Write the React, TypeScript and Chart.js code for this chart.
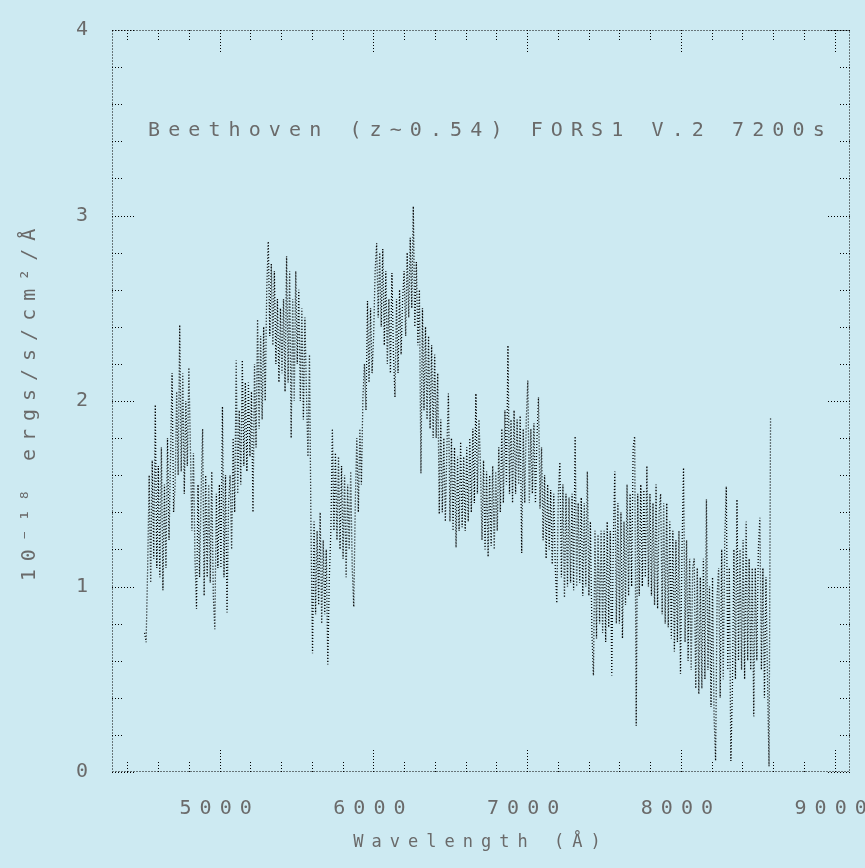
import React, { useEffect, useRef } from 'react';
import { Chart, registerables } from 'chart.js';

Chart.register(...registerables);

// ---- data ----
const lambdaStart = 4512; // Å, first sample
const lambdaStep = 9.93; // Å per sample
const flux = [
  0.75, 0.70, 1.10, 1.60, 1.02, 1.68, 1.15, 1.98, 1.10, 1.65,
  1.05, 1.75, 0.98, 1.55, 1.10, 1.80, 1.25, 1.70, 2.15, 1.40,
  1.55, 2.05, 1.60, 2.41, 1.62, 2.15, 1.50, 2.00, 1.65, 2.18,
  1.75, 1.30, 1.72, 1.15, 0.88, 1.55, 1.05, 1.50, 1.85, 0.95,
  1.60, 1.05, 1.55, 1.02, 1.62, 0.95, 0.77, 1.50, 1.10, 1.55,
  1.10, 1.97, 1.05, 1.60, 0.86, 1.45, 1.60, 1.20, 1.80, 1.40,
  2.22, 1.50, 1.95, 1.55, 2.22, 1.65, 2.10, 1.62, 2.10, 1.70,
  2.05, 1.40, 2.20, 1.75, 2.44, 1.85, 2.35, 1.90, 2.40, 2.00,
  2.60, 2.86, 2.35, 2.74, 2.30, 2.70, 2.20, 2.55, 2.10, 2.50,
  2.15, 2.55, 2.05, 2.78, 2.10, 2.70, 1.80, 2.55, 2.00, 2.70,
  2.20, 2.60, 2.00, 2.50, 1.90, 2.45, 2.05, 1.70, 2.25, 1.30,
  0.64, 1.35, 0.85, 1.30, 0.90, 1.40, 0.80, 1.25, 0.85, 1.20,
  0.58, 1.05, 1.30, 1.85, 1.30, 1.72, 1.25, 1.70, 1.20, 1.65,
  1.15, 1.60, 1.05, 1.55, 1.20, 1.62, 1.10, 0.89, 1.45, 1.80,
  1.40, 1.85, 1.55, 2.02, 2.20, 1.95, 2.54, 2.10, 2.50, 2.15,
  2.35, 2.70, 2.85, 2.45, 2.80, 2.40, 2.82, 2.30, 2.70, 2.20,
  2.55, 2.15, 2.69, 2.25, 2.02, 2.55, 2.15, 2.60, 2.25, 2.55,
  2.70, 2.35, 2.80, 2.45, 2.88, 2.50, 3.05, 2.40, 2.75, 2.30,
  2.60, 1.61, 2.50, 1.95, 2.40, 1.90, 2.35, 1.85, 2.30, 1.80,
  2.25, 1.80, 2.15, 1.39, 1.90, 1.40, 1.80, 1.35, 1.75, 2.04,
  1.35, 1.80, 1.30, 1.75, 1.21, 1.70, 1.30, 1.78, 1.32, 1.70,
  1.30, 1.75, 1.35, 1.80, 1.40, 1.85, 1.45, 2.04, 1.50, 1.90,
  1.65, 1.25, 1.68, 1.20, 1.62, 1.16, 1.60, 1.22, 1.65, 1.20,
  1.62, 1.30, 1.75, 1.40, 1.85, 1.45, 1.95, 1.55, 2.30, 1.50,
  1.90, 1.45, 1.95, 1.50, 1.90, 1.55, 1.92, 1.18, 1.85, 1.45,
  1.90, 2.11, 1.45, 1.85, 1.50, 1.88, 1.45, 1.80, 2.02, 1.42,
  1.75, 1.25, 1.60, 1.15, 1.55, 1.20, 1.52, 1.12, 1.50, 1.10,
  0.91, 1.50, 1.67, 1.05, 1.55, 0.94, 1.50, 1.00, 1.48, 1.02,
  1.50, 0.98, 1.81, 1.00, 1.45, 1.02, 1.48, 0.95, 1.45, 1.00,
  1.62, 0.95, 1.35, 0.75, 0.52, 1.30, 0.72, 1.28, 0.80, 1.30,
  0.75, 1.30, 0.70, 1.35, 0.78, 1.30, 0.52, 1.25, 1.62, 0.80,
  1.45, 0.80, 1.40, 0.72, 1.35, 0.90, 1.55, 0.95, 1.50, 1.00,
  1.75, 1.81, 0.25, 1.50, 0.95, 1.55, 1.00, 1.52, 1.05, 1.65,
  1.00, 1.50, 0.95, 1.45, 0.90, 1.55, 0.88, 1.40, 1.50, 0.85,
  1.45, 0.80, 1.45, 0.78, 1.35, 0.72, 1.30, 0.65, 1.25, 0.70,
  1.30, 0.53, 1.20, 1.64, 0.70, 1.25, 0.60, 1.15, 0.55, 1.10,
  1.15, 0.45, 1.10, 0.42, 1.05, 0.45, 1.15, 0.50, 1.47, 0.55,
  1.00, 0.35, 1.05, 0.30, 0.06, 0.95, 1.10, 0.40, 1.20, 0.50,
  1.25, 1.54, 0.55, 1.10, 0.06, 0.45, 1.20, 0.50, 1.47, 0.60,
  1.20, 0.55, 1.25, 0.50, 1.35, 0.60, 1.15, 0.55, 1.10, 0.30,
  1.10, 0.60, 1.20, 1.37, 0.55, 1.10, 0.40, 1.05, 0.50, 0.03, 1.91,
];

const xMin = 4300;
const xMax = 9100;
const yMin = 0;
const yMax = 4;
const xMajorTicks = [5000, 6000, 7000, 8000, 9000];
const xTickLabels = ['5000', '6000', '7000', '8000', '9000'];
const xMinorTicks = [4400, 4600, 4800, 5200, 5400, 5600, 5800, 6200, 6400, 6600, 6800, 7200, 7400, 7600, 7800, 8200, 8400, 8600, 8800, 9000];
const yMajorTicks = [0, 1, 2, 3, 4];
const yTickLabels = ['0', '1', '2', '3', '4'];
const yMinorTicks = [0.2, 0.4, 0.6, 0.8, 1.2, 1.4, 1.6, 1.8, 2.2, 2.4, 2.6, 2.8, 3.2, 3.4, 3.6, 3.8];

const titleText = 'Beethoven (z~0.54) FORS1 V.2 7200s';
const xAxisTitle = 'Wavelength (Å)';
const yAxisTitle = '10⁻¹⁸ ergs/s/cm²/Å';

const bgColor = 'rgb(205, 234, 242)';
const textColor = '#6a6a6a';
const fontFamily = '"DejaVu Sans Mono", monospace';

const spacingPlugin = {
  id: 'spacing',
  beforeDraw(chart: any) {
    chart.ctx.letterSpacing = '8px';
  },
};

const framePlugin = {
  id: 'frame',
  afterDraw(chart: any) {
    const { ctx, chartArea: a, scales } = chart;
    const xs = scales.x;
    const ys = scales.y;
    const major = 22;
    const minor = 11;
    ctx.save();
    ctx.strokeStyle = '#000';
    ctx.lineWidth = 1;
    ctx.setLineDash([1, 2]);
    ctx.beginPath();
    ctx.rect(a.left + 0.5, a.top + 0.5, a.right - a.left - 1, a.bottom - a.top - 1);
    const vTick = (v: number, len: number) => {
      const px = Math.round(xs.getPixelForValue(v)) + 0.5;
      ctx.moveTo(px, a.bottom);
      ctx.lineTo(px, a.bottom - len);
      ctx.moveTo(px, a.top);
      ctx.lineTo(px, a.top + len);
    };
    const hTick = (v: number, len: number) => {
      const py = Math.round(ys.getPixelForValue(v)) + 0.5;
      ctx.moveTo(a.left, py);
      ctx.lineTo(a.left + len, py);
      ctx.moveTo(a.right, py);
      ctx.lineTo(a.right - len, py);
    };
    xMajorTicks.forEach((v) => vTick(v, major));
    xMinorTicks.forEach((v) => vTick(v, minor));
    yMajorTicks.forEach((v) => hTick(v, major));
    yMinorTicks.forEach((v) => hTick(v, minor));
    ctx.stroke();

    ctx.setLineDash([]);
    ctx.letterSpacing = '8.1px';
    ctx.font = `20px ${fontFamily}`;
    ctx.fillStyle = textColor;
    ctx.textAlign = 'left';
    ctx.textBaseline = 'middle';
    ctx.fillText(titleText, 148, 131);
    ctx.restore();
  },
};

export default function App() {
  const ref = useRef<HTMLCanvasElement>(null);
  useEffect(() => {
    const canvas = ref.current!;
    const points = flux.map((v, i) => ({ x: lambdaStart + i * lambdaStep, y: v }));
    const chart = new Chart(canvas, {
      type: 'line',
      data: {
        datasets: [
          {
            data: points,
            borderColor: '#000',
            borderWidth: 1.3,
            borderDash: [1, 2],
            pointRadius: 0,
            tension: 0,
            fill: false,
          },
        ],
      },
      options: {
        animation: false,
        responsive: false,
        devicePixelRatio: 1,
        layout: { padding: { top: 30, right: 15, left: 0, bottom: 0 } },
        plugins: { legend: { display: false }, tooltip: { enabled: false } },
        scales: {
          x: {
            type: 'linear',
            min: xMin,
            max: xMax,
            grid: { display: false },
            border: { display: false },
            afterBuildTicks: (s: any) => {
              s.ticks = xMajorTicks.map((value) => ({ value }));
            },
            afterFit: (s: any) => {
              s.height = 96;
              s.paddingLeft = 0;
              s.paddingRight = 0;
            },
            ticks: {
              autoSkip: false,
              maxRotation: 0,
              padding: 17,
              color: textColor,
              font: { family: fontFamily, size: 20 },
              callback: (v: any) => xTickLabels[xMajorTicks.indexOf(Number(v))] ?? '',
            },
            title: {
              display: true,
              text: xAxisTitle,
              color: textColor,
              font: { family: fontFamily, size: 17 },
              padding: { top: 0, bottom: 15 },
            },
          },
          y: {
            type: 'linear',
            min: yMin,
            max: yMax,
            grid: { display: false },
            border: { display: false },
            afterBuildTicks: (s: any) => {
              s.ticks = yMajorTicks.map((value) => ({ value }));
            },
            afterFit: (s: any) => {
              s.width = 112;
              s.paddingTop = 0;
              s.paddingBottom = 0;
            },
            ticks: {
              autoSkip: false,
              padding: 8,
              color: textColor,
              font: { family: fontFamily, size: 20 },
              callback: (v: any) => yTickLabels[yMajorTicks.indexOf(Number(v))] ?? '',
            },
            title: {
              display: true,
              text: yAxisTitle,
              color: textColor,
              font: { family: fontFamily, size: 20 },
              padding: { top: 18, bottom: 0 },
            },
          },
        },
      },
      plugins: [spacingPlugin, framePlugin],
    } as any);
    return () => chart.destroy();
  }, []);
  return (
    <div style={{ position: 'fixed', left: 0, top: 0, width: 865, height: 868, background: bgColor }}>
      <canvas ref={ref} width={865} height={868} style={{ display: 'block' }} />
    </div>
  );
}
